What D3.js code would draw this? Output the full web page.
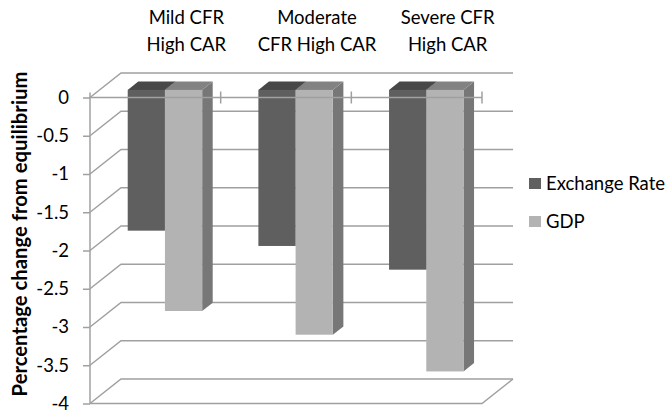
<!DOCTYPE html>
<html>
<head>
<meta charset="utf-8">
<script src="https://cdn.jsdelivr.net/npm/d3@7/dist/d3.min.js"></script>
<style>
  html, body { margin: 0; padding: 0; background: #fff; }
  svg { display: block; font-family: Lato, "Open Sans", sans-serif; }
</style>
</head>
<body>
<svg id="chart" width="670" height="415"></svg>
<script>
// Scenario categories (each label is drawn on two lines)
const categories = ["Mild", "Moderate", "Severe"];
const categoryLabels = [["Mild CFR", "High CAR"], ["Moderate", "CFR High CAR"], ["Severe CFR", "High CAR"]];
const seriesNames = ["Exchange Rate", "GDP"];
const exchangeRate = [-1.84, -2.04, -2.35];
const gdp = [-2.89, -3.20, -3.68];
const yTicks = [0, -0.5, -1, -1.5, -2, -2.5, -3, -3.5, -4];
const yTitle = "Percentage change from equilibrium";

const seriesValues = [exchangeRate, gdp];
const colors = {
  "Exchange Rate": { front: "#5f5f5f", top: "#484848", side: "#505050" },
  "GDP": { front: "#b3b3b3", top: "#828282", side: "#777777" }
};

const svg = d3.select("#chart");
const gridColor = "#a0a0a0";
const labelSize = "18.5px";

// Front plane of the 3D box
const y = d3.scaleLinear().domain([-4, 0]).range([403.5, 97.5]);
const x = d3.scaleBand().domain(categories).range([90, 482]).padding(0);
// Depth projection: full depth moves right and up
const DX = 31, DY = -24.5;
const off = d => [DX * d, DY * d];
const d0 = 0.31, d1 = 0.65;   // bar front / back depth

const xs = d3.scaleBand().domain(seriesNames)
  .range([0, x.bandwidth()]).paddingInner(0).paddingOuter(0.755);

const line = d3.line();

// Side wall and back wall gridlines
const grid = svg.append("g").attr("fill", "none").attr("stroke", gridColor).attr("stroke-width", 1.5);
grid.selectAll("path.grid").data(yTicks).join("path")
  .attr("class", "grid")
  .attr("d", v => line([
    [x.range()[0], y(v)],
    [x.range()[0] + DX, y(v) + DY],
    [x.range()[1] + DX, y(v) + DY]
  ]));

// Floor outline
grid.append("path")
  .attr("d", line([
    [x.range()[0], y(-4)],
    [x.range()[1], y(-4)],
    [x.range()[1] + DX, y(-4) + DY]
  ]));

// Bars
const barData = [];
categories.forEach((c, i) => {
  seriesNames.forEach((s, j) => {
    barData.push({ cat: c, series: s, value: seriesValues[j][i] });
  });
});

const bars = svg.append("g");
const bw = xs.bandwidth();
const [fx, fy] = off(d0);
const ddx = DX * (d1 - d0), ddy = DY * (d1 - d0);

const barG = bars.selectAll("g.bar").data(barData).join("g").attr("class", "bar");
barG.each(function(d) {
  const g = d3.select(this);
  const x1 = x(d.cat) + xs(d.series) + fx;
  const x2 = x1 + bw;
  const yt = y(0) + fy;
  const yb = y(d.value) + fy;
  const c = colors[d.series];
  // right side
  g.append("path").attr("fill", c.side)
    .attr("d", line([[x2, yt], [x2 + ddx, yt + ddy], [x2 + ddx, yb + ddy], [x2, yb]]) + "Z");
  // top face
  g.append("path").attr("fill", c.top)
    .attr("d", line([[x1, yt], [x2, yt], [x2 + ddx, yt + ddy], [x1 + ddx, yt + ddy]]) + "Z");
  // front face
  g.append("rect").attr("fill", c.front)
    .attr("x", x1).attr("y", yt).attr("width", bw).attr("height", yb - yt);
});

// Front zero line with category tick marks
const front = svg.append("g").attr("fill", "none").attr("stroke", gridColor).attr("stroke-width", 1.5);
front.append("line")
  .attr("x1", x.range()[0]).attr("x2", x.range()[1])
  .attr("y1", y(0)).attr("y2", y(0));
front.selectAll("line.ctick").data(categories).join("line")
  .attr("class", "ctick")
  .attr("x1", c => x(c) + x.bandwidth()).attr("x2", c => x(c) + x.bandwidth())
  .attr("y1", y(0) - 6).attr("y2", y(0) + 6);

// Value axis
const yAxis = d3.axisLeft(y).tickValues(yTicks).tickSize(7).tickSizeOuter(0)
  .tickPadding(14).tickFormat(d => String(d));
const ax = svg.append("g").attr("transform", `translate(${x.range()[0]},0)`).call(yAxis);
ax.select(".domain").attr("stroke", gridColor).attr("stroke-width", 1.5)
  .attr("d", `M0,${y(0) - 5}V${y(-4)}`);
ax.selectAll(".tick line").attr("stroke", gridColor).attr("stroke-width", 1.5);
ax.selectAll(".tick text").attr("fill", "#000").style("font-size", "18.5px")
  .style("font-family", "Lato, sans-serif");

// Category labels along the top
const catText = svg.append("g").attr("text-anchor", "middle").style("font-size", labelSize).attr("fill", "#000");
catText.selectAll("text").data(categories).join("text")
  .each(function(c, i) {
    const t = d3.select(this);
    categoryLabels[i].forEach((ln, k) => {
      t.append("tspan").attr("x", x(c) + x.bandwidth() / 2 + DX)
        .attr("y", 24 + k * 27).text(ln);
    });
  });

// Axis title
const title = svg.append("text")
  .attr("transform", "translate(27,234) rotate(-90)")
  .attr("text-anchor", "middle")
  .style("font-weight", "bold").style("font-size", "16px")
  .text(yTitle);
const tl = title.node().getComputedTextLength();
title.style("font-size", (16 * 325 / tl).toFixed(2) + "px");

// Legend
const legend = svg.append("g").style("font-size", labelSize);
const li = legend.selectAll("g").data(seriesNames).join("g")
  .attr("transform", (d, i) => `translate(529,${178 + i * 38})`);
li.append("rect").attr("width", 12).attr("height", 11).attr("fill", d => colors[d].front);
li.append("text").attr("x", 17).attr("y", 12).text(d => d);
</script>
</body>
</html>
